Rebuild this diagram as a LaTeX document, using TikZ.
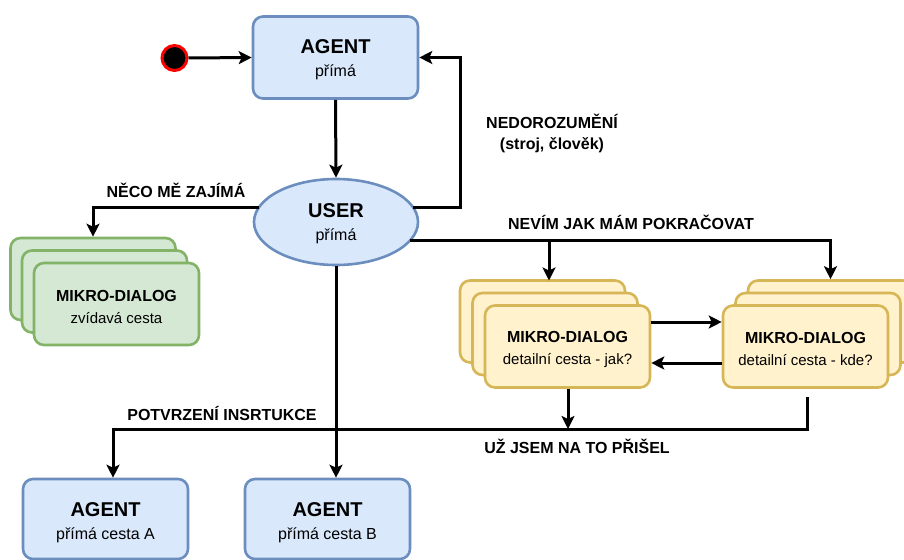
\documentclass[tikz,border=0pt]{standalone}
\usepackage{fontspec}
\setmainfont{Liberation Sans}
\usetikzlibrary{arrows.meta,shapes.geometric}
\definecolor{bfill}{HTML}{DAE8FC}
\definecolor{bstroke}{HTML}{6C8EBF}
\definecolor{gfill}{HTML}{D5E8D4}
\definecolor{gstroke}{HTML}{82B366}
\definecolor{yfill}{HTML}{FFF2CC}
\definecolor{ystroke}{HTML}{D6B656}
\newcommand\bigttl{\fontsize{20}{23}\selectfont\bfseries}
\newcommand\midttl{\fontsize{16}{22}\selectfont\bfseries}
\begin{document}
\begin{tikzpicture}[x=1pt,y=-1pt,
  box/.style={draw, rounded corners=10pt, line width=2.6pt, minimum width=165pt, minimum height=82pt, inner sep=0pt},
  agentbox/.style={box, draw=bstroke, fill=bfill},
  greenbox/.style={box, draw=gstroke, fill=gfill},
  yellowbox/.style={box, draw=ystroke, fill=yfill},
  bigtxt/.style={align=center, inner sep=0pt, font=\fontsize{16}{23}\selectfont},
  midtxt/.style={align=center, inner sep=0pt, font=\fontsize{15}{22}\selectfont},
  edge/.style={line width=3pt, draw=black},
  arr/.style={edge, -{Stealth[length=13pt,width=13pt,inset=3pt]}},
  lbl/.style={font=\fontsize{16}{20}\selectfont\bfseries, inner sep=0pt, align=center}
]
\useasboundingbox (0,0) rectangle (904,559);
\begin{scope}
\clip (0,0) rectangle (904,559);
% start
\node[circle, draw=red, fill=black, line width=3pt, minimum size=25pt, inner sep=0pt] (start) at (174.5,58) {};
% top agent
\node[agentbox] (agent) at (335.5,57.5) {};
\node[bigtxt] (agentT) at ([yshift=-2.5pt]agent.center) {{\bigttl AGENT}\\přímá};
% user
\node[ellipse, draw=bstroke, fill=bfill, line width=2.6pt, minimum width=164pt, minimum height=86pt, inner sep=0pt] (user) at (336,222) {};
\node[bigtxt] (userT) at ([yshift=-1.5pt]user.center) {{\bigttl USER}\\přímá};
% green stack
\node[greenbox] (gback) at (93,279) {};
\node[greenbox] (gmid) at (104.5,291.5) {};
\node[greenbox] (gfront) at (116.5,304) {};
\node[midtxt] (gfrontT) at ([yshift=-3pt]gfront.center) {{\midttl MIKRO-DIALOG}\\zvídavá cesta};
% yellow jak stack
\node[yellowbox] (jback) at (542.5,321.5) {};
\node[yellowbox] (jmid) at (555,334) {};
\node[yellowbox] (jfront) at (567.5,346.5) {};
\node[midtxt] (jfrontT) at ([yshift=-2.5pt]jfront.center) {{\midttl MIKRO-DIALOG}\\detailní cesta - jak?};
% yellow kde stack
\node[yellowbox] (kback) at (830.5,321.5) {};
\node[yellowbox] (kmid) at (818,334) {};
\node[yellowbox] (kfront) at (805.5,346.5) {};
\node[midtxt] (kfrontT) at ([yshift=-2.5pt]kfront.center) {{\midttl MIKRO-DIALOG}\\detailní cesta - kde?};
% bottom agents
\node[agentbox, minimum height=80pt] (agentA) at (105.5,519) {};
\node[bigtxt] (agentAT) at ([yshift=-3.5pt]agentA.center) {{\bigttl AGENT}\\přímá cesta A};
\node[agentbox, minimum height=80pt] (agentB) at (327.5,519) {};
\node[bigtxt] (agentBT) at ([yshift=-3.5pt]agentB.center) {{\bigttl AGENT}\\přímá cesta B};
% labels
\node[lbl] (lnedo) at (552,121) {NEDOROZUMĚNÍ};
\node[lbl] (lstroj) at (552,145) {(stroj, člověk)};
\node[lbl] (lneco) at (176,190) {NĚCO MĚ ZAJÍMÁ};
\node[lbl] (lnevim) at (631,222) {NEVÍM JAK MÁM POKRAČOVAT};
\node[lbl] (lpotv) at (222,413) {POTVRZENÍ INSRTUKCE};
\node[lbl] (luz) at (577,446) {UŽ JSEM NA TO PŘIŠEL};
% connectors
\draw[arr] (start.east) -- (agent.west);
\draw[arr] (agent.south) -- (user.north);
\coordinate (uR1) at (413,207);
\coordinate (uL1) at (259,207);
\coordinate (uR2) at (410,240);
\coordinate (jbr) at (549,240);
\coordinate (jtop) at (549,280.5);
\coordinate (jline) at (568,429);
\coordinate (kstart) at (807,397);
\draw[arr] (uR1) -- (460,207) -- (460,57.5) -- (agent.east);
\draw[arr] (uL1) -- (93,207) -- (gback.north);
\draw[arr] (uR2) -- (830.5,240) -- (kback.north);
\draw[arr] (jbr) -- (jtop);
\draw[arr] (jfront.east |- 0,322) -- (kfront.west |- 0,322);
\draw[arr] (kfront.west |- 0,363) -- (jfront.east |- 0,363);
\draw[arr] (jline |- jfront.south) -- (jline);
\draw[arr] (kstart) -- (807,429) -- (113,429) -- (agentA.north -| 113,0);
\draw[arr] (user.south) -- (user.south |- agentB.north);
\end{scope}
\end{tikzpicture}
\end{document}
